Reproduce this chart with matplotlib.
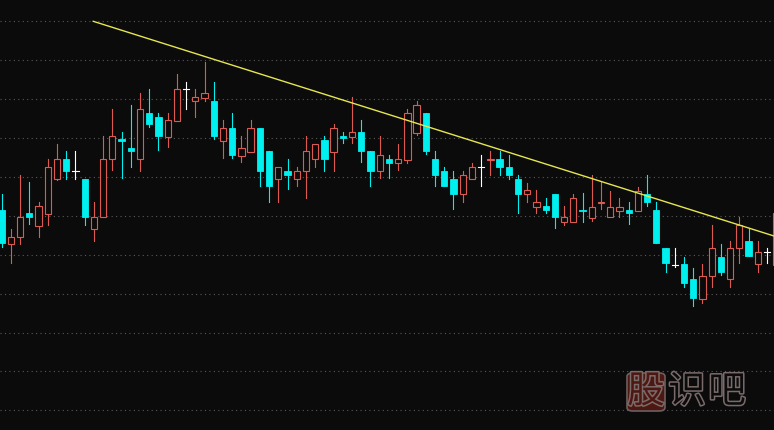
import numpy as np
from matplotlib import pyplot as plt
from matplotlib.patches import Rectangle, FancyBboxPatch
import matplotlib.patheffects as pe

# daily candles, prices
opens = [22.0, 18.6, 19.3, 21.7, 20.4, 21.6, 25.1, 27.1, 25.9, 25.1,
         20.1, 21.3, 27.1, 29.1, 28.2, 27.1, 31.7, 31.3, 29.3, 30.9,
         34.1, 32.9, 33.2, 32.9, 28.9, 30.2, 27.4, 27.8, 30.2, 27.9,
         25.1, 25.9, 25.1, 25.9, 27.1, 29.0, 27.8, 29.4, 29.3, 29.8,
         27.9, 25.9, 27.1, 26.7, 27.0, 29.7, 31.7, 27.1, 25.9, 25.1,
         23.6, 25.1, 26.3, 27.0, 27.1, 26.3, 25.1, 23.6, 22.3, 22.4,
         23.6, 20.8, 20.8, 22.0, 21.2, 22.75, 21.3, 21.9, 22.0, 21.9,
         23.6, 22.0, 18.2, 16.5, 16.6, 15.1, 13.1, 15.4, 17.3, 15.1,
         18.2, 18.9, 16.6, 17.8, 16.5]
highs = [23.6, 20.1, 25.5, 24.8, 22.8, 27.1, 28.6, 27.9, 27.9, 25.1,
         22.8, 29.4, 32.1, 29.8, 32.5, 33.7, 34.1, 31.7, 31.7, 35.6,
         34.8, 34.1, 36.8, 34.8, 31.0, 31.7, 29.4, 31.0, 30.2, 27.9,
         26.3, 27.1, 26.3, 29.4, 28.6, 29.4, 30.6, 29.8, 33.3, 31.0,
         27.9, 29.4, 27.5, 28.6, 32.1, 32.9, 31.7, 27.9, 26.3, 25.9,
         25.9, 26.7, 27.5, 27.9, 27.9, 27.5, 25.5, 24.7, 24.0, 23.2,
         23.6, 22.4, 23.6, 23.7, 25.5, 24.8, 23.9, 23.2, 22.8, 24.3,
         25.5, 22.8, 18.2, 18.2, 17.3, 16.2, 16.6, 20.5, 18.6, 18.9,
         21.3, 20.2, 18.9, 18.2, 21.7]
lows = [18.3, 16.7, 18.6, 20.6, 19.3, 20.5, 25.0, 25.1, 25.1, 20.5,
        18.9, 21.3, 26.0, 25.2, 26.3, 25.9, 30.3, 28.0, 28.3, 30.9,
        32.1, 31.3, 32.9, 29.1, 27.2, 27.2, 26.8, 27.8, 24.4, 22.8,
        22.8, 24.1, 24.4, 23.2, 26.3, 25.9, 25.9, 28.7, 28.7, 26.8,
        24.4, 25.2, 25.2, 26.0, 26.7, 29.5, 27.6, 24.4, 24.4, 22.1,
        22.8, 25.1, 24.4, 25.5, 25.5, 25.1, 21.7, 22.8, 21.7, 21.7,
        20.2, 20.5, 20.8, 20.8, 20.9, 22.1, 21.3, 21.3, 20.6, 21.9,
        22.4, 18.7, 15.8, 16.3, 14.3, 12.4, 12.7, 14.3, 15.5, 14.3,
        16.7, 17.4, 15.8, 16.7, 16.5]
closes = [18.7, 19.3, 21.3, 21.3, 22.4, 26.3, 27.1, 25.9, 25.9, 21.3,
          21.3, 27.1, 29.4, 28.9, 27.9, 32.1, 30.6, 29.4, 31.0, 34.1,
          34.1, 33.3, 33.7, 29.4, 30.2, 27.5, 28.2, 30.2, 25.9, 24.4,
          26.3, 25.5, 25.9, 27.9, 28.6, 27.1, 30.2, 29.2, 29.8, 27.9,
          25.9, 27.5, 26.7, 27.1, 31.7, 32.5, 27.9, 25.5, 24.4, 23.6,
          25.5, 26.3, 26.3, 27.1, 26.3, 25.5, 23.6, 24.0, 22.8, 22.0,
          21.3, 21.3, 23.2, 21.9, 22.3, 22.8, 22.3, 22.3, 21.7, 23.9,
          22.8, 18.7, 16.7, 16.5, 14.7, 13.2, 15.4, 18.2, 15.8, 18.2,
          20.5, 17.4, 17.8, 17.8, 21.7]

# resistance line drawn over the highs
trend_x = [9.93, 84.0]
trend_y = [40.87, 19.33]

bg = '#0b0b0b'
red = '#dc5a52'
cyan = '#00f0f0'
w = 0.68

fig = plt.figure(figsize=(7.74, 4.30), dpi=100, facecolor=bg)
ax = fig.add_axes([0, 0, 1, 1])
ax.set_facecolor(bg)
ax.set_xlim(-0.18, 83.76)
ax.set_ylim(0, 43)
ax.axis('off')

for gy in np.arange(40.87, 0, -3.89):
    ax.axhline(gy, color='#5a5a5a', lw=0.8, ls=(0, (1, 3)), zorder=1)

for i in range(len(opens)):
    o, h, l, c = opens[i], highs[i], lows[i], closes[i]
    if c > o:
        ax.plot([i, i], [c, h], color=red, lw=0.8, zorder=2)
        ax.plot([i, i], [l, o], color=red, lw=0.8, zorder=2)
        ax.add_patch(Rectangle((i - w / 2, o), w, c - o, facecolor=bg,
                               edgecolor=red, lw=0.8, zorder=3))
    elif c < o:
        ax.plot([i, i], [l, h], color=cyan, lw=0.8, zorder=2)
        ax.add_patch(Rectangle((i - w / 2, c), w, max(o - c, 0.12),
                               facecolor=cyan, edgecolor=cyan, lw=0.6, zorder=3))
    else:
        ax.plot([i, i], [l, h], color='white', lw=0.8, zorder=2)
        ax.plot([i - w / 2, i + w / 2], [c, c], color='white', lw=0.8, zorder=3)

ax.plot(trend_x, trend_y, color='#e6e650', lw=1.0, zorder=4)

# watermark
fig.patches.append(FancyBboxPatch((627 / 774, 19 / 430), 38 / 774, 38 / 430,
                                  boxstyle='round,pad=0,rounding_size=0.008',
                                  transform=fig.transFigure, facecolor='#4e1812',
                                  edgecolor='#6e5e5e', lw=1.2, zorder=5))
stroke = [pe.Stroke(linewidth=2.2, foreground='#7a6b6b'), pe.Normal()]
fig.text(646 / 774, 38 / 430, '股', fontsize=27, family=['Noto Sans CJK SC'],
         color='#4e1812', ha='center', va='center', path_effects=stroke, zorder=6)
fig.text(687 / 774, 38 / 430, '识', fontsize=27, family=['Noto Sans CJK SC'],
         color=bg, ha='center', va='center', path_effects=stroke, zorder=6)
fig.text(727 / 774, 38 / 430, '吧', fontsize=27, family=['Noto Sans CJK SC'],
         color=bg, ha='center', va='center', path_effects=stroke, zorder=6)

fig.savefig('out.png', dpi=100, facecolor=bg)
